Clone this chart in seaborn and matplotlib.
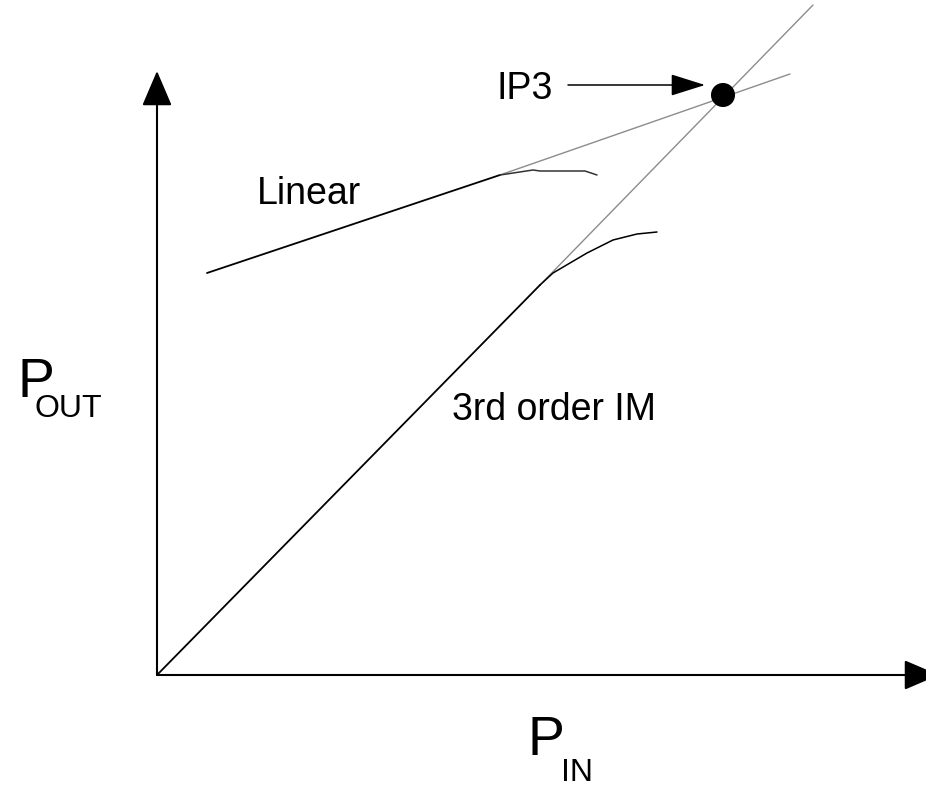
import matplotlib
matplotlib.use('Agg')
import matplotlib.pyplot as plt
import seaborn as sns

# data in pixel-like units measured from the origin
fund_x = [50, 343]
fund_y = [402, 500]
fund_ext_x = [343, 633]
fund_ext_y = [500, 601]
fund_comp_x = [343, 376, 383, 428, 440]
fund_comp_y = [500, 505, 504, 504, 500]

im3_x = [0, 383]
im3_y = [0, 390]
im3_ext_x = [383, 656]
im3_ext_y = [390, 670]
im3_comp_x = [383, 396, 430, 456, 480, 500]
im3_comp_y = [390, 402, 422, 435, 441, 443]

ip3_x = [566]
ip3_y = [580]

sns.set_theme(style="white")
plt.rcParams['font.family'] = ['Liberation Sans', 'DejaVu Sans']
plt.rcParams['text.color'] = 'black'

fig = plt.figure(figsize=(9.26, 7.88), dpi=100)
ax = fig.add_axes([0, 0, 1, 1])
ax.set_xlim(-157, 769)
ax.set_ylim(-113, 675)
ax.axis('off')

# thin extrapolations
sns.lineplot(x=fund_ext_x, y=fund_ext_y, ax=ax, color='#8c8c8c', lw=1.0, sort=False)
sns.lineplot(x=im3_ext_x, y=im3_ext_y, ax=ax, color='#8c8c8c', lw=1.0, sort=False)

# measured curves
sns.lineplot(x=fund_x, y=fund_y, ax=ax, color='black', lw=1.3, sort=False)
sns.lineplot(x=fund_comp_x, y=fund_comp_y, ax=ax, color='#333333', lw=1.1, sort=False)
sns.lineplot(x=im3_x, y=im3_y, ax=ax, color='black', lw=1.3, sort=False)
sns.lineplot(x=im3_comp_x, y=im3_comp_y, ax=ax, color='black', lw=1.1, sort=False)

sns.scatterplot(x=ip3_x, y=ip3_y, ax=ax, color='black', s=300, edgecolor='none', zorder=5)

# axes with arrows
axis_arrow = dict(arrowstyle='-|>,head_length=22,head_width=9.4', mutation_scale=1,
                  color='black', lw=1.5, shrinkA=0, shrinkB=0)
ax.annotate('', xy=(0, 604), xytext=(0, 0), arrowprops=axis_arrow)
ax.annotate('', xy=(782, 0), xytext=(0, 0), arrowprops=axis_arrow, annotation_clip=False)

# IP3 pointer
ax.annotate('', xy=(548, 590), xytext=(411, 590),
            arrowprops=dict(arrowstyle='-|>,head_length=21.6,head_width=6.8', mutation_scale=1,
                            color='black', lw=1.1, shrinkA=0, shrinkB=0))

ax.text(396, 576, 'IP3', fontsize=27, ha='right', va='baseline')
ax.text(100, 471, 'Linear', fontsize=27, ha='left', va='baseline')
ax.text(295, 255, '3rd order IM', fontsize=27, ha='left', va='baseline')

# axis titles
ax.text(-140, 278, 'P', fontsize=40, ha='left', va='baseline')
ax.text(-122, 258, 'OUT', fontsize=23, ha='left', va='baseline')
ax.text(371, -80, 'P', fontsize=40, ha='left', va='baseline')
ax.text(404, -106, 'IN', fontsize=23, ha='left', va='baseline')

plt.savefig('out.png', dpi=100)
